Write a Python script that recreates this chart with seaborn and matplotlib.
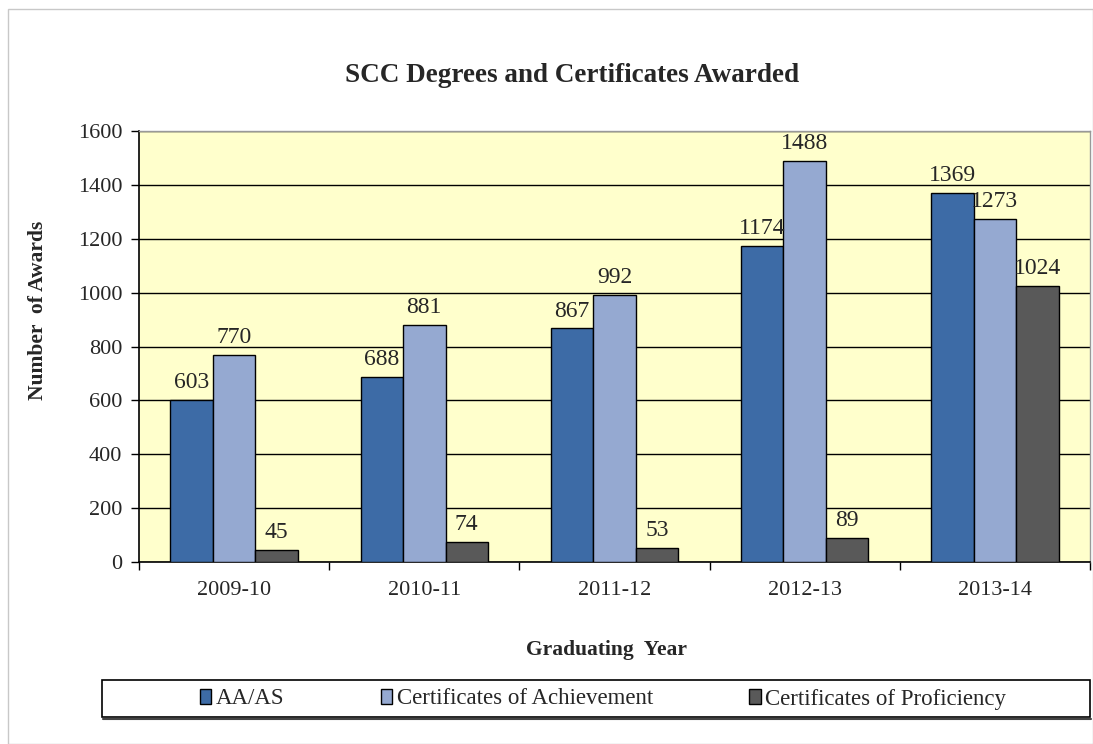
import matplotlib
matplotlib.use("Agg")
import matplotlib.pyplot as plt
import seaborn as sns
import pandas as pd
from matplotlib.patches import Rectangle

years = ["2009-10", "2010-11", "2011-12", "2012-13", "2013-14"]
aa_as = [603, 688, 867, 1174, 1369]
achievement = [770, 881, 992, 1488, 1273]
proficiency = [45, 74, 53, 89, 1024]
series_names = ["AA/AS", "Certificates of Achievement", "Certificates of Proficiency"]
colors = ["#3D6BA6", "#95A9D1", "#595959"]
yticks = [0, 200, 400, 600, 800, 1000, 1200, 1400, 1600]

rows = []
for name, vals in zip(series_names, [aa_as, achievement, proficiency]):
    for y, v in zip(years, vals):
        rows.append({"Year": y, "Series": name, "Value": v})
df = pd.DataFrame(rows)

sns.set_theme(style="white")
plt.rcParams["font.family"] = ["Liberation Serif", "DejaVu Serif"]

W, H = 1093, 744
fig = plt.figure(figsize=(W / 100, H / 100), dpi=100)
ax = fig.add_axes([139 / W, 1 - 562 / H, (1090 - 139) / W, (562 - 131) / H])
ax.set_facecolor("#FFFFCC")

sns.barplot(data=df, x="Year", y="Value", hue="Series", palette=colors, saturation=1,
            width=0.67, edgecolor="black", linewidth=1.0, ax=ax, legend=False,
            zorder=3)

ax.set_ylim(0, 1600)
ax.set_xlim(-0.5, len(years) - 0.5)
ax.set_yticks(yticks)
ax.set_yticklabels([str(t) for t in yticks], fontsize=16)
ax.yaxis.grid(True, color="black", linewidth=1.0, zorder=0)
ax.set_axisbelow(True)

ax.set_xticks(range(len(years)))
ax.set_xticklabels(years, fontsize=16)
ax.tick_params(axis="x", length=0, pad=14)
ax.set_xticks([i + 0.5 for i in range(-1, len(years))], minor=True)
ax.tick_params(axis="x", which="minor", length=6, width=1, color="black", direction="out", bottom=True)
ax.tick_params(axis="y", length=6, width=1, color="black", direction="out", left=True, pad=6)

for side in ["top", "right"]:
    ax.spines[side].set_color("#999999")
    ax.spines[side].set_linewidth(1)
for side in ["left", "bottom"]:
    ax.spines[side].set_color("black")
    ax.spines[side].set_linewidth(1.2)

for cont in ax.containers:
    ax.bar_label(cont, labels=[f"{int(v)}" for v in cont.datavalues], padding=5, fontsize=17)

ax.set_xlabel("")
ax.set_ylabel("")
fig.text(607 / W, 1 - 650 / H, "Graduating  Year", fontsize=15.5, fontweight="bold",
         ha="center", va="center")
fig.text(38 / W, 1 - 310 / H, "Number  of Awards", fontsize=15.5, fontweight="bold",
         ha="center", va="center", rotation=90)
fig.text(572 / W, 1 - 75 / H, "SCC Degrees and Certificates Awarded", fontsize=19.5,
         fontweight="bold", ha="center", va="center")

# legend box
fig.patches.append(Rectangle((102 / W, 1 - 717 / H), (1090 - 102) / W, 37 / H,
                             transform=fig.transFigure, fill=True, facecolor="white",
                             edgecolor="black", linewidth=1.2, zorder=1))
fig.lines.append(plt.Line2D([103 / W, 1091 / W], [1 - 718.5 / H, 1 - 718.5 / H],
                            transform=fig.transFigure, color="#444444", linewidth=1.5))

handles = [Rectangle((0, 0), 1, 1, facecolor=c, edgecolor="black", linewidth=1) for c in colors]
leg = fig.legend(handles, series_names, loc="center", ncol=3,
                 bbox_to_anchor=(603 / W, 1 - 699 / H),
                 fontsize=16.5, frameon=False,
                 handlelength=0.5, handleheight=0.65, handletextpad=0.2,
                 columnspacing=4.2, borderpad=0.2, borderaxespad=0)

fig.patches.append(Rectangle((8 / W, 0), 1 - 8 / W, 1 - 9 / H, transform=fig.transFigure,
                             fill=False, edgecolor="#C8C8C8", linewidth=1))

fig.savefig("out.png", dpi=100)
